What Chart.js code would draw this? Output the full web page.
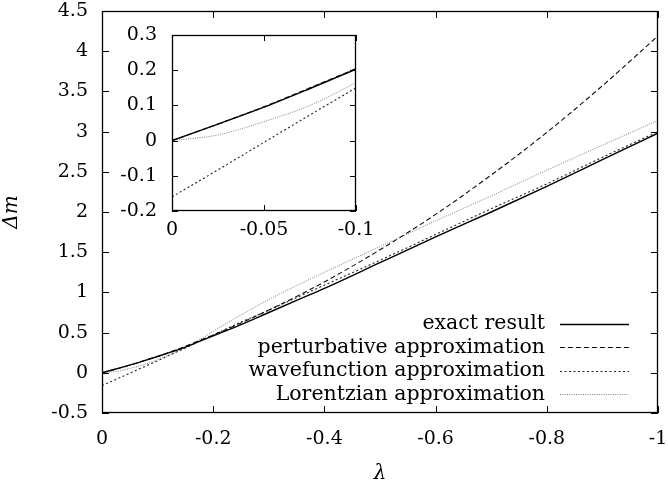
<!DOCTYPE html>
<html>
<head>
<meta charset="utf-8">
<script src="https://cdn.jsdelivr.net/npm/chart.js@4.4.0/dist/chart.umd.min.js"></script>
<style>
  html, body { margin: 0; padding: 0; background: #fff; }
  #wrap { position: relative; width: 668px; height: 498px; }
  #main { position: absolute; left: 0; top: 0; }
  #inset { position: absolute; left: 92px; top: 25px; }
</style>
</head>
<body>
<div id="wrap">
  <canvas id="main" width="668" height="498"></canvas>
  <canvas id="inset" width="290" height="230"></canvas>
</div>
<script>
// values
const lambda = [0, -0.025, -0.05, -0.075, -0.1, -0.125, -0.15, -0.175, -0.2, -0.25, -0.3, -0.35, -0.4, -0.5, -0.6, -0.7, -0.8, -0.9, -1];
const exact = [0, 0.047, 0.095, 0.148, 0.203, 0.26, 0.32, 0.39, 0.46, 0.60, 0.75, 0.90, 1.05, 1.37, 1.69, 2.00, 2.32, 2.65, 2.98];
const perturbative = [0, 0.047, 0.096, 0.150, 0.205, 0.265, 0.33, 0.40, 0.47, 0.62, 0.78, 0.95, 1.13, 1.53, 1.97, 2.46, 2.99, 3.57, 4.19];
const wavefunction = [-0.16, -0.083, -0.005, 0.073, 0.15, 0.23, 0.31, 0.39, 0.47, 0.63, 0.78, 0.935, 1.09, 1.40, 1.72, 2.04, 2.35, 2.68, 3.0];
const lorentzian = [0, 0.016, 0.054, 0.10, 0.165, 0.235, 0.315, 0.41, 0.515, 0.72, 0.91, 1.085, 1.25, 1.57, 1.89, 2.2, 2.52, 2.83, 3.14];
const labels = ["exact result", "perturbative approximation", "wavefunction approximation", "Lorentzian approximation"];

const FONT = '"DejaVu Serif", "Liberation Serif", serif';
const FS = 19;

const fmt = v => {
  const r = Math.round(v * 1000) / 1000;
  return r === 0 ? "0" : String(r);
};

const pts = arr => lambda.map((l, i) => ({ x: l, y: arr[i] }));

const makeSets = () => [
  { label: labels[0], data: pts(exact), borderColor: "#000", borderWidth: 1.4, borderDash: [] },
  { label: labels[1], data: pts(perturbative), borderColor: "#111", borderWidth: 1.1, borderDash: [5, 3] },
  { label: labels[2], data: pts(wavefunction), borderColor: "#222", borderWidth: 1.1, borderDash: [2, 2.5] },
  { label: labels[3], data: pts(lorentzian), borderColor: "#808080", borderWidth: 1, borderDash: [1, 1.3] }
].map(d => Object.assign(d, { pointRadius: 0, fill: false, cubicInterpolationMode: "monotone" }));

// box round the plot with inward ticks on all four sides
const frame = {
  id: "frame",
  beforeDraw(chart) {
    const { ctx, chartArea: a } = chart;
    ctx.save();
    ctx.fillStyle = "#fff";
    ctx.fillRect(a.left, a.top, a.width, a.height);
    ctx.restore();
  },
  afterDatasetsDraw(chart, args, opts) {
    const { ctx, chartArea: a, scales: { x, y } } = chart;
    const len = opts.len;
    ctx.save();
    ctx.strokeStyle = "#000";
    ctx.lineWidth = 1;
    ctx.setLineDash([]);
    ctx.beginPath();
    x.ticks.forEach(t => {
      const px = Math.round(x.getPixelForValue(t.value)) + 0.5;
      ctx.moveTo(px, a.bottom); ctx.lineTo(px, a.bottom - len);
      ctx.moveTo(px, a.top); ctx.lineTo(px, a.top + len);
    });
    y.ticks.forEach(t => {
      const py = Math.round(y.getPixelForValue(t.value)) + 0.5;
      ctx.moveTo(a.left, py); ctx.lineTo(a.left + len, py);
      ctx.moveTo(a.right, py); ctx.lineTo(a.right - len, py);
    });
    ctx.stroke();
    ctx.lineWidth = 1.3;
    ctx.strokeRect(a.left + 0.5, a.top + 0.5, a.width - 1, a.height - 1);
    ctx.restore();
  }
};

// gnuplot style key: text right aligned, line sample to its right
const keyBox = {
  id: "keyBox",
  afterDraw(chart) {
    const ctx = chart.ctx;
    ctx.save();
    ctx.font = "20.5px " + FONT;
    ctx.textAlign = "right";
    ctx.textBaseline = "middle";
    ctx.fillStyle = "#000";
    chart.data.datasets.forEach((ds, i) => {
      const yy = 324 + i * 23.4;
      ctx.fillText(ds.label, 545, yy);
      ctx.setLineDash(ds.borderDash);
      ctx.strokeStyle = ds.borderColor;
      ctx.lineWidth = ds.borderWidth;
      ctx.beginPath();
      ctx.moveTo(560, Math.round(yy) + 0.5);
      ctx.lineTo(629, Math.round(yy) + 0.5);
      ctx.stroke();
    });
    ctx.restore();
  }
};

const fixX = h => s => { s.height = h; s.paddingLeft = 0; s.paddingRight = 0; };
const fixY = w => s => { s.width = w; s.paddingTop = 0; s.paddingBottom = 0; };

Chart.defaults.font.family = FONT;
Chart.defaults.font.size = FS;
Chart.defaults.color = "#000";

new Chart(document.getElementById("main"), {
  type: "line",
  data: { datasets: makeSets() },
  plugins: [frame, keyBox],
  options: {
    responsive: false,
    animation: false,
    devicePixelRatio: 1,
    layout: { padding: { top: 11, right: 10, left: 0, bottom: 0 } },
    plugins: { legend: { display: false }, tooltip: { enabled: false }, frame: { len: 7 } },
    scales: {
      x: {
        type: "linear", min: -1, max: 0, reverse: true,
        grid: { display: false, drawTicks: false },
        border: { display: false },
        ticks: { stepSize: 0.2, padding: 15, maxRotation: 0, callback: fmt },
        title: { display: true, text: "λ", font: { style: "italic", size: FS + 1 }, padding: { top: 0, bottom: 12 } },
        afterFit: fixX(85)
      },
      y: {
        type: "linear", min: -0.5, max: 4.5,
        grid: { display: false, drawTicks: false },
        border: { display: false },
        ticks: { stepSize: 0.5, padding: 14, callback: fmt },
        title: { display: true, text: "Δm", font: { style: "italic", size: FS + 1 }, padding: { top: 0, bottom: 0 } },
        afterFit: fixY(102)
      }
    }
  }
});

new Chart(document.getElementById("inset"), {
  type: "line",
  data: { datasets: makeSets() },
  plugins: [frame],
  options: {
    responsive: false,
    animation: false,
    devicePixelRatio: 1,
    layout: { padding: { top: 10, right: 26, left: 0, bottom: 0 } },
    plugins: { legend: { display: false }, tooltip: { enabled: false }, frame: { len: 6 } },
    scales: {
      x: {
        type: "linear", min: -0.1, max: 0, reverse: true,
        grid: { display: false, drawTicks: false },
        border: { display: false },
        ticks: { stepSize: 0.05, padding: 8, maxRotation: 0, callback: fmt },
        afterFit: fixX(44)
      },
      y: {
        type: "linear", min: -0.2, max: 0.3,
        grid: { display: false, drawTicks: false },
        border: { display: false },
        ticks: { stepSize: 0.1, padding: 15, callback: fmt },
        afterFit: fixY(80)
      }
    }
  }
});
</script>
</body>
</html>
